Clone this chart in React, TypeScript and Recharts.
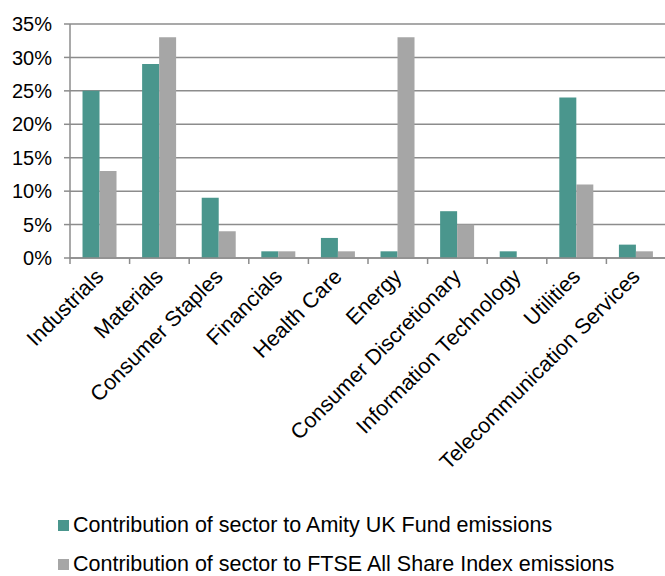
import React from "react"
import { BarChart, Bar, XAxis, YAxis, CartesianGrid } from "recharts"

document.body.style.margin = "0"

const sectors = [
  "Industrials",
  "Materials",
  "Consumer Staples",
  "Financials",
  "Health Care",
  "Energy",
  "Consumer Discretionary",
  "Information Technology",
  "Utilities",
  "Telecommunication Services",
]
const fundEmissions = [25, 29, 9, 1, 3, 1, 7, 1, 24, 2]
const ftseEmissions = [13, 33, 4, 1, 1, 33, 5, 0, 11, 1]
const yTicks = [0, 5, 10, 15, 20, 25, 30, 35]

const seriesNames = [
  "Contribution of sector to Amity UK Fund emissions",
  "Contribution of sector to FTSE All Share Index emissions",
]

const TEAL = "#4a968d"
const GREY = "#a6a6a6"
const GRID = "#8c8c8c"
const FONT = "'Liberation Sans', Arial, sans-serif"

const W = 665
const H = 576
const LEFT = 70
const PLOT_W = 596
const BAND = PLOT_W / sectors.length

const data = sectors.map((s, i) => ({
  sector: s,
  fund: fundEmissions[i],
  ftse: ftseEmissions[i],
}))

function SectorTick(props: any) {
  const { x, y, payload, index } = props
  const left = x - BAND / 2
  return (
    <g>
      <line x1={left} y1={y} x2={left} y2={y + 6} stroke={GRID} strokeWidth={1.5} />
      {index === sectors.length - 1 && (
        <line x1={left + BAND} y1={y} x2={left + BAND} y2={y + 6} stroke={GRID} strokeWidth={1.5} />
      )}
      <text
        x={x + 5}
        y={y + 20}
        textAnchor="end"
        transform={`rotate(-45 ${x + 5} ${y + 20})`}
        fontSize={21.5}
        fontFamily={FONT}
        fill="#000"
      >
        {payload.value}
      </text>
    </g>
  )
}

export default function App() {
  return (
    <div style={{ position: "relative", width: W, height: H, fontFamily: FONT }}>
      <BarChart
        width={W}
        height={H}
        data={data}
        margin={{ top: 24, right: W - LEFT - PLOT_W, left: 0, bottom: 0 }}
        barCategoryGap="21%"
        barGap={0}
      >
        <CartesianGrid vertical={false} stroke={GRID} strokeWidth={1.5} />
        <XAxis
          dataKey="sector"
          interval={0}
          height={318}
          axisLine={{ stroke: GRID, strokeWidth: 1.5 }}
          tickLine={false}
          tickSize={0}
          tickMargin={0}
          tick={<SectorTick />}
        />
        <YAxis
          width={LEFT}
          domain={[0, 35]}
          ticks={yTicks}
          interval={0}
          tickFormatter={(v: number) => `${v}%`}
          axisLine={{ stroke: GRID, strokeWidth: 1.5 }}
          tickLine={{ stroke: GRID, strokeWidth: 1.5 }}
          tickSize={6}
          tickMargin={12}
          tick={{ fill: "#000", fontSize: 20, fontFamily: FONT }}
        />
        <Bar dataKey="fund" fill={TEAL} isAnimationActive={false} />
        <Bar dataKey="ftse" fill={GREY} isAnimationActive={false} />
      </BarChart>
      {seriesNames.map((name, i) => (
        <div
          key={name}
          style={{
            position: "absolute",
            left: 58,
            top: 513 + i * 39,
            display: "flex",
            alignItems: "center",
            fontSize: 21.5,
            color: "#000",
            whiteSpace: "nowrap",
          }}
        >
          <span
            style={{
              display: "inline-block",
              width: 11,
              height: 11,
              background: i === 0 ? TEAL : GREY,
              marginRight: 4,
            }}
          />
          {name}
        </div>
      ))}
    </div>
  )
}
